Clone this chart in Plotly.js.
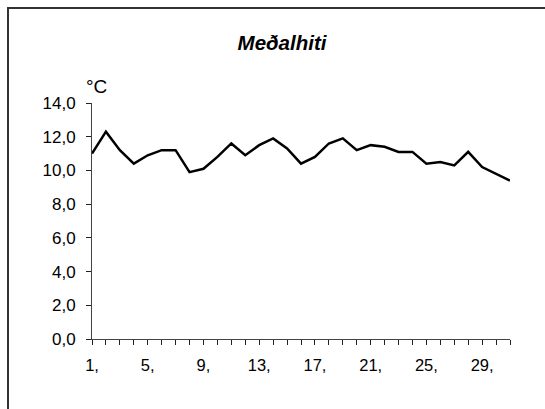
<!DOCTYPE html>
<html>
<head>
<meta charset="utf-8">
<script src="https://cdn.plot.ly/plotly-3.0.1.min.js"></script>
<style>
  html, body { margin: 0; padding: 0; overflow: hidden; background: #fff; }
  #chart { position: absolute; left: 0; top: 0; width: 545px; height: 409px; }
  #frame { position: absolute; left: 7px; top: 7px; width: 580px; height: 440px;
           border: 2px solid #333; pointer-events: none; }
</style>
</head>
<body>
<div id="chart"></div>
<div id="frame"></div>
<script>
const days = Array.from({length: 31}, (_, i) => i + 1);
const temps = [11.0, 12.3, 11.2, 10.4, 10.9, 11.2, 11.2, 9.9, 10.1, 10.8,
               11.6, 10.9, 11.5, 11.9, 11.3, 10.4, 10.8, 11.6, 11.9, 11.2,
               11.5, 11.4, 11.1, 11.1, 10.4, 10.5, 10.3, 11.1, 10.2, 9.8, 9.4];
const labelledDays = [1, 5, 9, 13, 17, 21, 25, 29];
const xTickText = days.map(d => labelledDays.includes(d) ? d + ',' : '');
const yTicks = [0, 2, 4, 6, 8, 10, 12, 14];
const chartTitle = 'Meðalhiti';
const unitLabel = '°C';

const FONT = 'Liberation Sans, Arial, sans-serif';

const traces = [
  { x: days, y: temps, type: 'scatter', mode: 'lines',
    line: { color: '#000', width: 2.5 }, hoverinfo: 'skip', xaxis: 'x', yaxis: 'y' }
];

const axisCommon = { showgrid: false, zeroline: false, showline: true,
  linecolor: '#444', linewidth: 1, tickcolor: '#222', tickwidth: 1, ticklen: 5 };

// second, tick-only subplot on the same area: gives the inner half of the cross ticks
const innerTicks = { showgrid: false, zeroline: false, showline: false, showticklabels: false,
  ticks: 'inside', ticklen: 5, tickwidth: 1, tickcolor: '#222', domain: [0, 1] };

const layout = {
  width: 545, height: 409,
  margin: { l: 92, r: 35, t: 103, b: 70 },
  paper_bgcolor: '#fff', plot_bgcolor: 'rgba(0,0,0,0)',
  showlegend: false,
  separators: ',.',
  font: { family: FONT, size: 16, color: '#000' },
  title: { text: '<b><i>' + chartTitle + '</i></b>', x: 282 / 545, xref: 'container', xanchor: 'center',
           y: 1 - 43 / 409, yref: 'container', yanchor: 'middle',
           font: { family: FONT, size: 20.5, color: '#000' } },
  xaxis: Object.assign({}, axisCommon, {
    range: [1, 31], tickmode: 'array', tickvals: days, ticktext: xTickText,
    ticks: 'outside', tickfont: { family: FONT, size: 16.5 }, ticklabelstandoff: 6
  }),
  yaxis: Object.assign({}, axisCommon, {
    range: [0, 14], tickmode: 'array', tickvals: yTicks, tickformat: '.1f',
    ticks: 'outside', tickfont: { family: FONT, size: 17 }, ticklabelstandoff: 7
  }),
  xaxis2: Object.assign({}, innerTicks, { anchor: 'y2', range: [1, 31], tickmode: 'array', tickvals: days }),
  yaxis2: Object.assign({}, innerTicks, { anchor: 'x2', range: [0, 14], tickmode: 'array', tickvals: yTicks }),
  annotations: [
    { text: unitLabel, xref: 'paper', yref: 'paper', x: (84 - 92) / 418, y: (339 - 86.5) / 236,
      xanchor: 'left', yanchor: 'middle', showarrow: false,
      font: { family: FONT, size: 19, color: '#000' } }
  ]
};

Plotly.newPlot('chart', traces, layout, { staticPlot: true, displayModeBar: false });
</script>
</body>
</html>
